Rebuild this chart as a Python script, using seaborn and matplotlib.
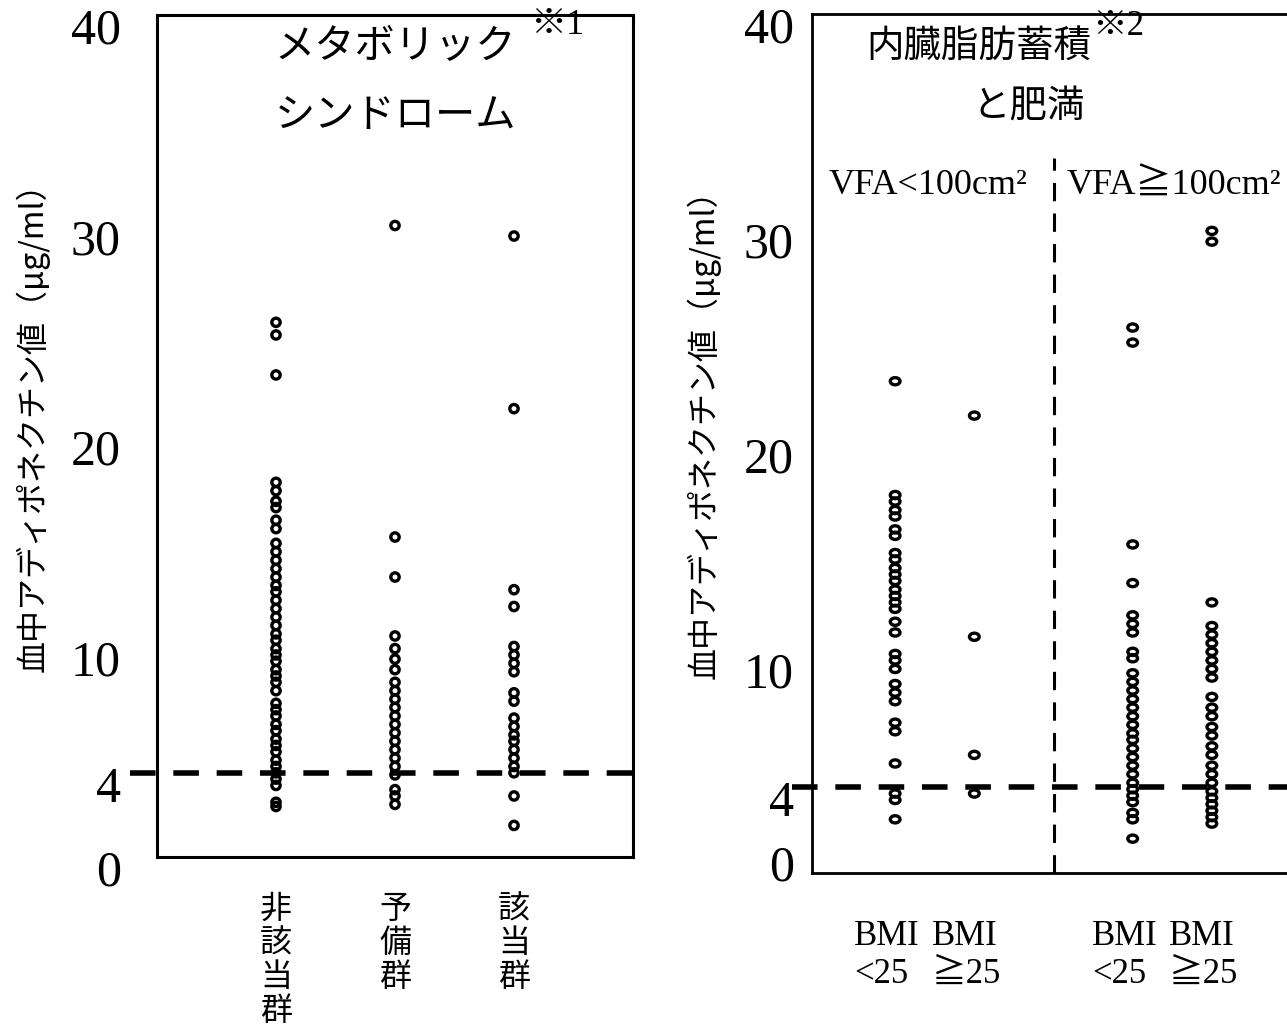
import pandas as pd
import matplotlib
matplotlib.use('Agg')
import matplotlib.pyplot as plt
import matplotlib.transforms as mtransforms
from matplotlib.path import Path
import seaborn as sns

# Serum adiponectin (ug/ml)
metabo_groups = ['非該当群', '予備群', '該当群']
metabo_labels = ['非\n該\n当\n群', '予\n備\n群', '該\n当\n群']
metabo_non = [25.4, 24.8, 22.9, 17.8, 17.4, 16.9, 16.6, 16.0, 15.6, 14.9, 14.5, 14.1, 13.7,
              13.3, 12.9, 12.6, 12.2, 11.8, 11.4, 11.0, 10.6, 10.3, 9.9, 9.6, 9.3, 8.9, 8.6,
              8.3, 7.9, 7.3, 7.0, 6.7, 6.3, 6.0, 5.6, 5.3, 5.0, 4.6, 4.3, 4.0, 3.7, 3.4, 2.6, 2.4]
metabo_pre = [30.0, 15.2, 13.3, 10.5, 9.9, 9.4, 8.9, 8.3, 7.9, 7.5, 7.1, 6.7, 6.3, 5.9, 5.5,
              5.1, 4.7, 4.3, 3.9, 3.2, 2.9, 2.5]
metabo_yes = [29.5, 21.3, 12.7, 11.9, 10.0, 9.6, 9.2, 8.8, 7.8, 7.4, 6.6, 6.2, 5.8, 5.5, 5.1,
              4.7, 4.3, 4.0, 2.9, 1.5]

vfa_groups = ['VFA<100/BMI<25', 'VFA<100/BMI≧25', 'VFA≧100/BMI<25', 'VFA≧100/BMI≧25']
vfa_labels = ['BMI\n<25', 'BMI\n≧25', 'BMI\n<25', 'BMI\n≧25']
vfa_lo_bmi_lo = [22.9, 17.6, 17.3, 16.9, 16.6, 16.0, 15.7, 14.9, 14.6, 14.2, 13.9, 13.6, 13.2,
                 12.9, 12.6, 12.3, 11.7, 11.2, 10.2, 9.9, 9.5, 8.8, 8.4, 8.0, 7.0, 6.6, 5.1,
                 3.7, 3.4, 2.5]
vfa_lo_bmi_hi = [21.3, 11.0, 5.5, 3.7]
vfa_hi_bmi_lo = [25.4, 24.7, 15.3, 13.5, 12.0, 11.6, 11.2, 10.3, 10.0, 9.3, 8.9, 8.5, 8.1, 7.7,
                 7.3, 6.9, 6.5, 6.2, 5.8, 5.4, 5.0, 4.6, 4.2, 3.9, 3.6, 3.3, 2.8, 2.5, 1.6]
vfa_hi_bmi_hi = [29.9, 29.4, 12.6, 11.5, 11.1, 10.7, 10.3, 9.9, 9.5, 9.1, 8.2, 7.7, 7.3, 6.8,
                 6.4, 5.9, 5.5, 5.0, 4.6, 4.2, 3.8, 3.5, 3.2, 2.9, 2.6, 2.3]

cutoff = 4
yticks = [0, 4, 10, 20, 30, 40]
ylabel = '血中アディポネクチン値（μg/ml）'


def long_df(groups, series):
    rows = [(g, v) for g, vals in zip(groups, series) for v in vals]
    return pd.DataFrame(rows, columns=['group', 'value'])


df_metabo = long_df(metabo_groups, [metabo_non, metabo_pre, metabo_yes])
df_vfa = long_df(vfa_groups, [vfa_lo_bmi_lo, vfa_lo_bmi_hi, vfa_hi_bmi_lo, vfa_hi_bmi_hi])
# empty slot between the two VFA groups
vfa_order = vfa_groups[:2] + ['gap'] + vfa_groups[2:]

sns.set_style('white')
plt.rcParams['font.family'] = ['Liberation Serif', 'Noto Sans CJK JP', 'DejaVu Sans']
for key in ['text.color', 'axes.labelcolor', 'xtick.color', 'ytick.color', 'axes.edgecolor']:
    plt.rcParams[key] = 'black'
jp = ['Noto Sans CJK JP', 'DejaVu Sans']
serif = ['Liberation Serif', 'Noto Sans CJK JP']

W, H = 1287, 1036
fig = plt.figure(figsize=(W / 100, H / 100), dpi=100)
ax1 = fig.add_axes([157 / W, 1 - 857 / H, 476 / W, 842 / H])
ax2 = fig.add_axes([812 / W, 1 - 873 / H, 483 / W, 859 / H])


def shift_labels(labels, dx_px, dy_px):
    off = mtransforms.ScaledTranslation(dx_px / 100, dy_px / 100, fig.dpi_scale_trans)
    for lab in labels:
        lab.set_transform(lab.get_transform() + off)


def hollow(ax, lw):
    for c in ax.collections:
        c.set_facecolor('none')
        c.set_edgecolor('black')
        c.set_linewidth(lw)


# ---------- left: metabolic syndrome ----------
sns.stripplot(data=df_metabo, x='group', y='value', order=metabo_groups, jitter=False,
              color='black', size=6, ax=ax1, zorder=3)
hollow(ax1, 2.4)

ax1.set_xlim(-1, 3)
ax1.set_ylim(0, 40)
ax1.set_yticks(yticks)
ax1.set_yticklabels([str(t) for t in yticks], family=serif, fontsize=36)
ax1.set_xticks(range(len(metabo_groups)))
ax1.set_xticklabels(metabo_labels, family=jp, fontsize=23, linespacing=1.08, va='top')
ax1.tick_params(axis='y', direction='out', length=6, width=2, pad=20)
ax1.tick_params(axis='x', length=0, pad=26)
for s in ax1.spines.values():
    s.set_visible(True)
    s.set_linewidth(2.2)
# tick labels sit a little below their ticks in the original
shift_labels(ax1.get_yticklabels(), 0, -11)
ax1.set_xlabel('')
ax1.set_ylabel(ylabel, family=jp, fontsize=23)
ax1.yaxis.set_label_coords(-0.225, 0.52)

ax1.axhline(cutoff, xmin=-27 / 476, xmax=1, color='black', lw=4, dashes=(4.6, 3.2),
            clip_on=False, zorder=2)

ax1.text(0.5, 0.962, 'メタボリック', transform=ax1.transAxes, ha='center', va='center',
         family=jp, fontsize=29)
ax1.text(0.5, 0.881, 'シンドローム', transform=ax1.transAxes, ha='center', va='center',
         family=jp, fontsize=29)
ax1.text(0.84, 0.988, '※1', transform=ax1.transAxes, ha='center', va='center',
         family=serif, fontsize=26)

# ---------- right: visceral fat and obesity ----------
ellipse = Path.unit_circle().transformed(mtransforms.Affine2D().scale(1.35, 1.0))
sns.stripplot(data=df_vfa, x='group', y='value', order=vfa_order, jitter=False,
              color='black', size=7, marker=ellipse, ax=ax2, zorder=3)
hollow(ax2, 2.4)

ax2.set_xlim(-1.05, 5.05)
ax2.set_ylim(0, 40)
ax2.set_yticks(yticks)
ax2.set_yticklabels([str(t) for t in yticks], family=serif, fontsize=36)
ax2.set_xticks([0, 1, 3, 4])
ax2.set_xticklabels(vfa_labels, family=serif, fontsize=25, linespacing=1.2, va='top',
                    multialignment='left')
ax2.tick_params(axis='y', direction='out', length=5, width=1.5, pad=8)
ax2.tick_params(axis='x', direction='out', length=5, width=1.5, pad=29)
for side in ['left', 'top', 'bottom']:
    ax2.spines[side].set_linewidth(2)
ax2.spines['right'].set_visible(False)
ytl = ax2.get_yticklabels()
shift_labels(ytl[1:], 0, -11)
shift_labels(ytl[:1], 0, 10)
shift_labels(ax2.get_xticklabels(), -8, 0)
ax2.set_xlabel('')
ax2.set_ylabel(ylabel, family=jp, fontsize=23)
ax2.yaxis.set_label_coords(-0.19, 0.52)

ax2.axhline(cutoff, xmin=-20 / 483, xmax=1, color='black', lw=4, dashes=(4.6, 3.2),
            clip_on=False, zorder=2)
ax2.axvline(2, ymin=0, ymax=0.832, color='black', lw=2.2, dashes=(6, 4), zorder=2)

ax2.text(0.346, 0.963, '内臓脂肪蓄積', transform=ax2.transAxes, ha='center', va='center',
         family=jp, fontsize=27)
ax2.text(0.449, 0.893, 'と肥満', transform=ax2.transAxes, ha='center', va='center',
         family=jp, fontsize=27)
ax2.text(0.634, 0.986, '※2', transform=ax2.transAxes, ha='center', va='center',
         family=serif, fontsize=25)
ax2.text(0.240, 0.800, 'VFA<100cm²', transform=ax2.transAxes, ha='center', va='center',
         family=serif, fontsize=26)
ax2.text(0.750, 0.800, 'VFA≧100cm²', transform=ax2.transAxes, ha='center', va='center',
         family=serif, fontsize=26)

fig.savefig('out.png', dpi=100)
